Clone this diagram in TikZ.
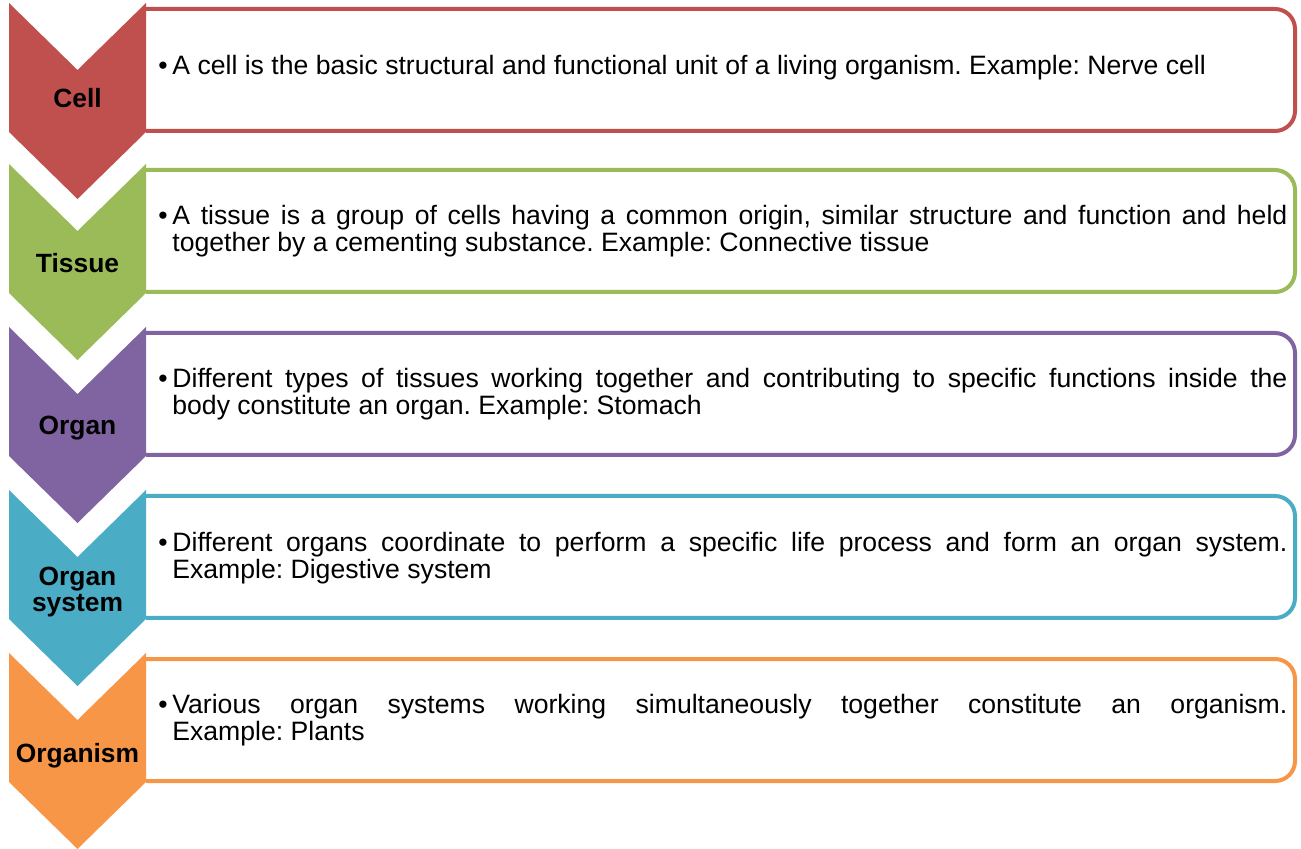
\documentclass[tikz,border=0pt]{standalone}
\usepackage{fontspec}
\setmainfont{Liberation Sans}
\frenchspacing
\definecolor{cellred}{HTML}{C0504D}
\definecolor{tissuegreen}{HTML}{9BBB59}
\definecolor{organpurple}{HTML}{8064A2}
\definecolor{systemteal}{HTML}{4BACC6}
\definecolor{organismorange}{HTML}{F79646}
\begin{document}
\begin{tikzpicture}[x=0.5pt, y=-0.5pt,
    levellabel/.style={font=\bfseries\fontsize{13.2}{13}\selectfont, align=center, inner sep=0pt},
    levelbullet/.style={anchor=base west, inner sep=0pt, font=\fontsize{13.3}{13.5}\selectfont},
    leveltext/.style={anchor=base west, inner sep=0pt, text width=557.5pt, align=justify,
        font=\fontsize{13.3}{13.5}\selectfont}]
    \useasboundingbox (0,0) rectangle (1301,849);

    % One row per level: box, chevron, label, description
    \foreach \y/\col/\nm/\lbl/\ly/\base/\txt in {
        3/cellred/cell/{Cell}/95/72/{A cell is the basic structural and functional unit of a living organism. Example: Nerve cell},
        164/tissuegreen/tissue/{Tissue}/99/61/{A tissue is a group of cells having a common origin, similar structure and function and held\linebreak together by a cementing substance. Example: Connective tissue},
        327/organpurple/organ/{Organ}/101/61/{Different types of tissues working together and contributing to specific functions inside the\linebreak body constitute an organ. Example: Stomach},
        490/systemteal/system/{Organ\\system}/102/62/{Different organs coordinate to perform a specific life process and form an organ system.\linebreak Example: Digestive system},
        653/organismorange/organism/{Organism}/103/60/{Various organ systems working simultaneously together constitute an organism.\linebreak Example: Plants}} {
        % text box (left side hidden by the chevron)
        \draw[\col, line width=2pt, rounded corners=10pt]
            (146,\y+6) -- (1295,\y+6) -- (1295,\y+128) -- (146,\y+128);
        % chevron
        \fill[\col] (9,\y) -- (77.5,\y+67) -- (146,\y) -- (146,\y+129)
            -- (77.5,\y+196) -- (9,\y+129) -- cycle;
        \node[levellabel] (\nm-label) at (77.5,\y+\ly) {\lbl};
        \node[levelbullet] (\nm-dot) at (158,\y+\base) {•};
        \node[leveltext] (\nm-text) at (172,\y+\base) {\txt};
    }
\end{tikzpicture}
\end{document}
